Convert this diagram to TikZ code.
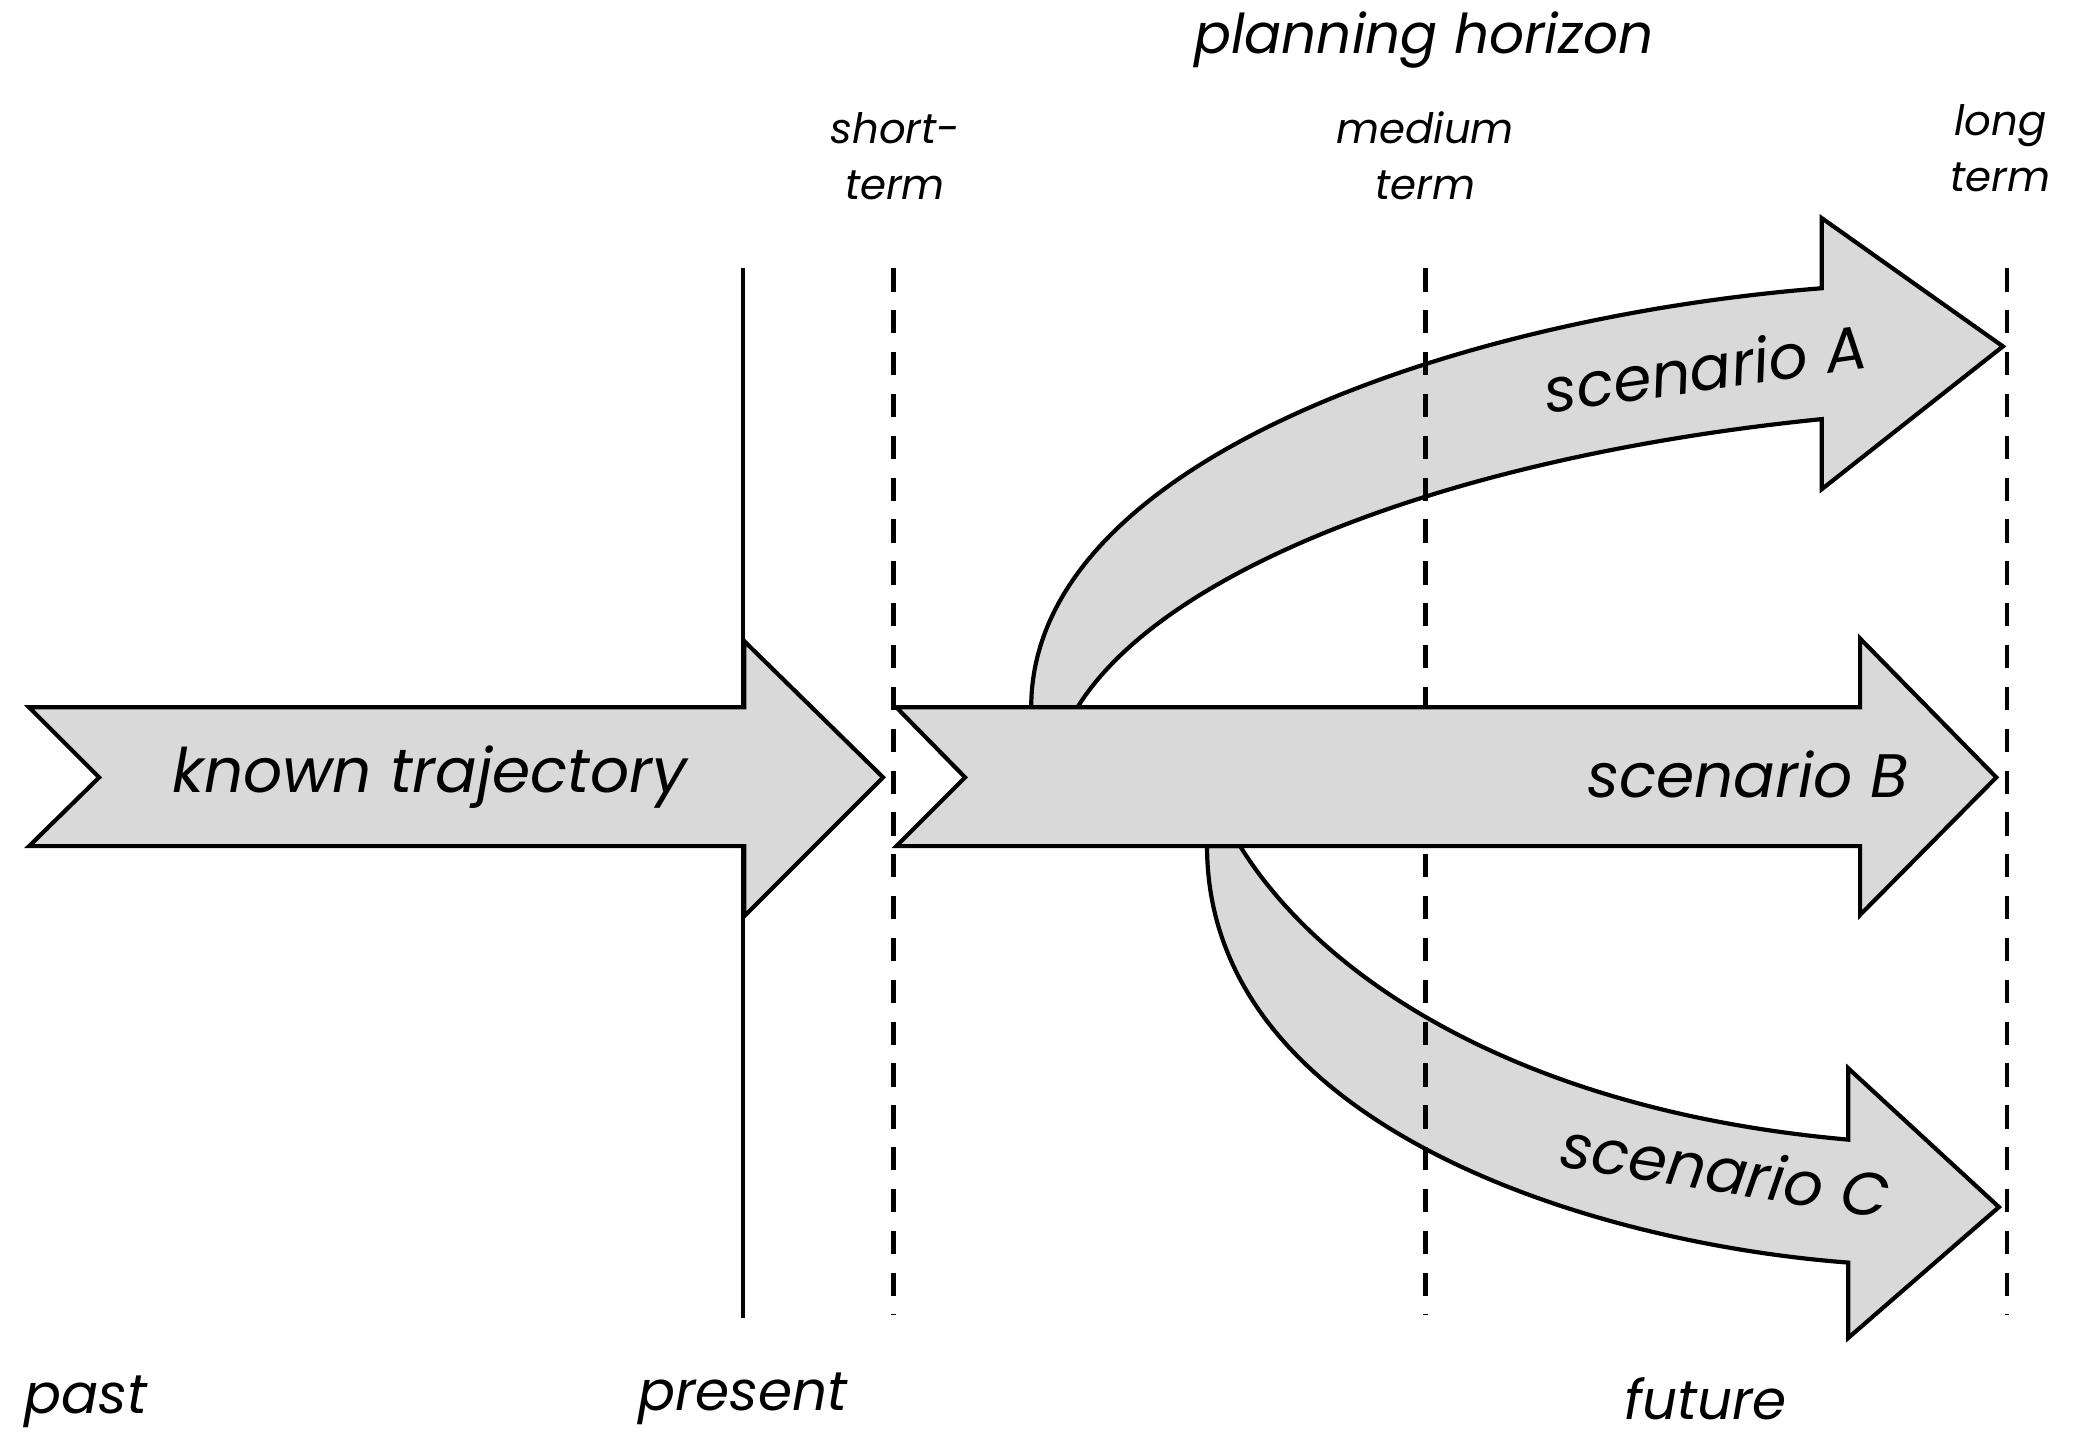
\documentclass[tikz,border=0pt]{standalone}
\usepackage{fontspec}
\setmainfont{Poppins}
\begin{document}
\begin{tikzpicture}[x=0.01cm,y=-0.01cm,
  arr/.style={draw=black,fill=gray!30,line width=0.9pt,line join=miter},
  dashln/.style={draw=black,line width=1pt,dash pattern=on 5pt off 4pt},
  big/.style={font=\fontsize{13.2}{16}\selectfont\itshape},
  mid/.style={font=\fontsize{11.8}{14}\selectfont\itshape},
  sml/.style={font=\fontsize{9}{12}\selectfont\itshape,align=center}]
\useasboundingbox (0,0) rectangle (1568,1096);
% scenario A
\path[arr] (780,535) .. controls (780,350) and (1100,240) .. (1378,218) -- (1378,165) -- (1515,262) -- (1378,370) -- (1378,317) .. controls (1100,345) and (880,430) .. (815,535) -- cycle;
% scenario C
\path[arr] (913,640) .. controls (913,850) and (1200,940) .. (1398,955) -- (1398,1012) -- (1512,913) -- (1398,808) -- (1398,862) .. controls (1150,840) and (1000,740) .. (938,640) -- cycle;
% lines
\coordinate (p1) at (562,203); \coordinate (p2) at (562,997);
\draw[line width=1pt] (p1) -- (p2);
\foreach \x/\n in {676/s,1078/m,1518/l}{
  \coordinate (\n1) at (\x,203); \coordinate (\n2) at (\x,995);
  \draw[dashln] (\n1) -- (\n2);}
% known
\path[arr] (22,535) -- (563,535) -- (563,485) -- (668,588) -- (563,693) -- (563,640) -- (22,640) -- (75,588) -- cycle;
% scenario B
\path[arr] (678,535) -- (1407,535) -- (1407,483) -- (1510,588) -- (1407,692) -- (1407,640) -- (678,640) -- (730,588) -- cycle;
% texts
\node[mid] (ph) at (1077,30) {planning horizon};
\node[sml] (st) at (677,118) {short-\\term};
\node[sml] (mt) at (1078,118) {medium\\term};
\node[sml] (lt) at (1513,112) {long\\term};
\node[big] (kt) at (325,588) {known trajectory};
\node[big,rotate=8] (sa) at (1290,278) {scenario A};
\node[big] (sb) at (1322,586) {scenario B};
\node[big,rotate=-9] (sc) at (1305,885) {scenario C};
\node[mid] (pa) at (65,1060) {past};
\node[mid] (pr) at (562,1058) {present};
\node[mid] (fu) at (1290,1058) {future};
\end{tikzpicture}
\end{document}
